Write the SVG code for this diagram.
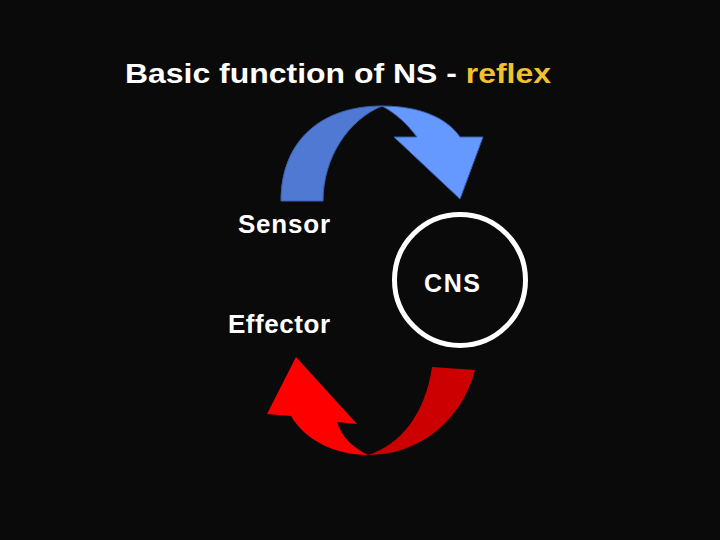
<svg xmlns="http://www.w3.org/2000/svg" width="720" height="540" viewBox="0 0 720 540">
<style>
text{font-family:"Liberation Sans",Arial,sans-serif;fill:#ffffff;font-weight:bold}
.lbl{font-size:26px}
</style>
<rect width="720" height="540" fill="#0a0a0a"/>
<text x="125" y="83" font-size="27" textLength="426" lengthAdjust="spacingAndGlyphs">Basic function of NS - <tspan fill="#f2c12e">reflex</tspan></text>
<g id="connectors">
<g id="blue-arrow" stroke="#3a5fb0" stroke-width="1">
<path d="M281,201 C281,140 322,106 382,106 C348,120 323,158 323,201 Z" fill="#5079d4"/>
<path d="M382,106 C420,106 447,118 460,137 L483,137 L460,199 L394,137 L417,137 C407,124 397,114 382,106 Z" fill="#6699ff"/>
</g>
<g id="red-arrow">
<path d="M368,455 C420,455 462,420 475,370 L432,367 C425,415 400,445 368,455 Z" fill="#cc0000"/>
<path d="M291,416 C305,440 335,455 368,455 C352,447 342,437 337,422 L357,424 L296,357 L267,414 Z" fill="#ff0000"/>
</g>
</g>
<g id="sensor"><text class="lbl" x="238" y="233" textLength="92" lengthAdjust="spacing">Sensor</text></g>
<g id="cns">
<circle cx="460" cy="280" r="65.5" fill="none" stroke="#ffffff" stroke-width="5"/>
<text x="424" y="292" font-size="25" textLength="56" lengthAdjust="spacing">CNS</text>
</g>
<g id="effector"><text class="lbl" x="228" y="333" textLength="102" lengthAdjust="spacing">Effector</text></g>
</svg>
